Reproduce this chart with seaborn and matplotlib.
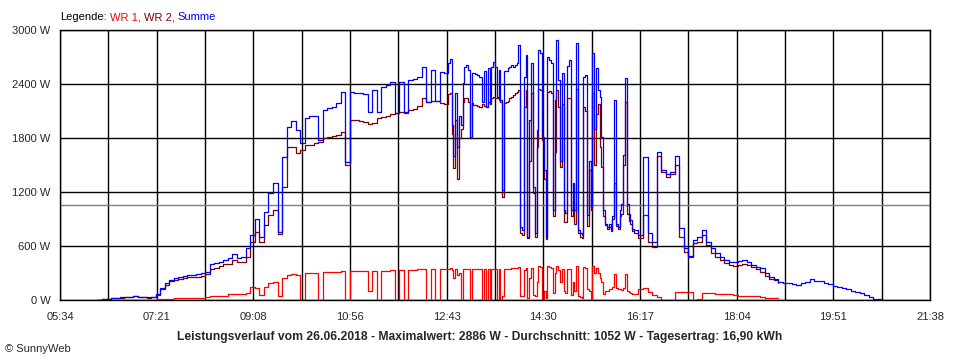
import numpy as np
import pandas as pd
import seaborn as sns
import matplotlib
matplotlib.use("Agg")
import matplotlib.pyplot as plt

# --- data (26.06.2018), values in W ---
# logger samples: 5 min until 12:40, 2 min in the cloudy midday part, 5 min in the evening
times_morning = pd.date_range("2018-06-26 06:15", "2018-06-26 12:40", freq="5min")
times_midday = pd.date_range("2018-06-26 12:42", "2018-06-26 16:10", freq="2min")
times_evening = pd.date_range("2018-06-26 16:15", "2018-06-26 20:45", freq="5min")

summe_morning = [5, 8, 12, 18, 22, 28, 35, 30, 45, 35, 30, 30, 38, 65, 135, 185, 222, 240, 258, 270,
                 278, 278, 285, 296, 315, 396, 407, 425, 444, 463, 510, 463, 481, 574, 720, 900, 700, 980,
                 1190, 1300, 760, 1590, 1925, 1990, 1890, 1740, 2020, 2050, 2050, 1778, 2110, 2130, 2150,
                 2185, 2315, 1530, 2315, 2305, 2300, 2290, 2093, 2333, 2090, 2370, 2390, 2420, 2080, 2420,
                 2085, 2444, 2455, 2481, 2592, 2200, 2555, 2214, 2537, 2520]
wr2_morning = [5, 8, 12, 18, 20, 25, 32, 28, 40, 32, 28, 27, 35, 58, 125, 172, 208, 222, 236, 248,
               255, 255, 260, 270, 290, 350, 360, 375, 395, 400, 440, 420, 425, 480, 640, 760, 650, 830,
               950, 1000, 730, 1260, 1700, 1700, 1630, 1667, 1720, 1722, 1740, 1760, 1796, 1815, 1820,
               1830, 1870, 1500, 2000, 2000, 1990, 1980, 1960, 1966, 2020, 2037, 2044, 2070, 2075, 2085,
               2080, 2110, 2120, 2155, 2240, 2195, 2214, 2210, 2192, 2180]
wr1_morning = [0, 0, 0, 0, 0, 0, 0, 0, 0, 2, 3, 3, 4, 6, 10, 12, 14, 20, 25, 25,
               25, 25, 25, 25, 28, 45, 48, 48, 50, 66, 68, 70, 72, 75, 140, 130, 60, 150,
               185, 200, 40, 250, 278, 285, 280, 0, 300, 305, 305, 0, 310, 310, 315,
               315, 320, 0, 320, 322, 322, 322, 100, 325, 0, 325, 325, 330, 0, 330,
               0, 330, 335, 350, 350, 0, 350, 0, 350, 350]

summe_midday = [2520, 2630, 2680, 1950, 1600, 2300, 1700, 2050, 1950, 2407, 2590, 2610, 2555, 1810, 2526,
                2520, 2507, 2500, 2480, 2480, 2200, 2540, 2150, 2575, 2190, 2590, 2648, 2590, 2260, 2555,
                2220, 1222, 2540, 2540, 2575, 2590, 2610, 2590, 2610, 2630, 2833, 810, 778, 2480, 2722,
                704, 2000, 2630, 1260, 750, 1890, 2778, 2740, 1810, 1450, 700, 2703, 2667, 2630, 1000,
                2220, 2886, 2444, 1550, 2520, 1000, 970, 2600, 2667, 1000, 1300, 1000, 2860, 780, 740,
                720, 2480, 2500, 940, 1550, 1030, 2740, 1900, 2575, 2333, 2260, 1810, 1000, 850, 810,
                850, 780, 930, 2220, 850, 810, 1000, 1070, 1610, 2470, 1070, 960, 890, 790, 780]
wr2_midday = [2180, 2290, 2300, 1850, 1470, 2000, 1350, 1800, 1900, 2200, 2240, 2240, 2200, 1800, 2190,
              2170, 2165, 2160, 2150, 2150, 2180, 2160, 2140, 2200, 2180, 2240, 2260, 2250, 2240, 2220,
              2200, 1150, 2185, 2200, 2210, 2240, 2260, 2278, 2304, 2315, 2330, 741, 720, 2150, 2333,
              690, 1550, 2300, 1190, 700, 1700, 2350, 2333, 1780, 1350, 680, 2315, 2320, 2300, 930,
              1650, 2333, 2150, 1480, 2180, 870, 870, 2250, 2250, 930, 1100, 850, 2350, 740, 700,
              690, 2150, 2100, 820, 1450, 1000, 2300, 1500, 2070, 2180, 1700, 1480, 930, 830, 790,
              810, 770, 900, 1300, 820, 790, 930, 960, 1500, 2200, 960, 880, 850, 770, 740]
wr1_midday = [350, 350, 360, 330, 250, 340, 280, 300, 0, 340, 340, 345, 340, 0, 345,
              345, 345, 345, 345, 345, 0, 345, 0, 345, 0, 345, 345, 350, 0, 350,
              0, 50, 350, 350, 350, 350, 355, 355, 355, 355, 370, 40, 40, 330, 360,
              20, 250, 360, 60, 40, 200, 375, 370, 0, 100, 20, 375, 370, 360, 80,
              300, 380, 330, 200, 350, 100, 80, 350, 350, 60, 200, 100, 380, 40, 30,
              20, 370, 360, 120, 100, 0, 380, 300, 360, 300, 250, 200, 70, 100, 100,
              120, 120, 150, 290, 130, 120, 120, 110, 130, 290, 100, 90, 80, 70, 70]

summe_evening = [720, 1590, 740, 650, 1650, 1450, 1396, 1426, 1600, 800, 574, 489, 667, 700, 778, 648,
                 574, 518, 481, 444, 426, 420, 430, 450, 426, 389, 370, 352, 296, 259, 233, 204,
                 185, 185, 174, 167, 185, 204, 230, 211, 215, 193, 178, 156, 141, 130, 119, 104,
                 89, 74, 56, 30, 11, 7, 3]
wr2_evening = [690, 940, 648, 590, 1600, 1420, 1370, 1400, 1500, 700, 537, 480, 630, 648, 720, 611,
               518, 480, 444, 415, 389, 380, 389, 400, 389, 370, 341, 315, 267, 230, 220, 193] + [None] * 23
wr1_evening = [120, 130, 90, 60, 30, 0, 0, 0, 89, 89, 89, 89, 0, 10, 80, 80,
               80, 70, 70, 70, 70, 60, 50, 45, 40, 40, 40, 30, 20, 20, 20, 20] + [None] * 23

average_w = 1052
x_tick_labels = ["05:34", "07:21", "09:08", "10:56", "12:43", "14:30", "16:17", "18:04", "19:51", "21:38"]
y_ticks = [0, 600, 1200, 1800, 2400, 3000]
title_text = ("Leistungsverlauf vom 26.06.2018 - Maximalwert: 2886 W - "
              "Durchschnitt: 1052 W - Tagesertrag: 16,90 kWh")

times = times_morning.append(times_midday).append(times_evening)
df = pd.DataFrame({
    "time": times,
    "WR 1": wr1_morning + wr1_midday + wr1_evening,
    "WR 2": wr2_morning + wr2_midday + wr2_evening,
    "Summe": summe_morning + summe_midday + summe_evening,
})
df["minute"] = df["time"].dt.hour * 60 + df["time"].dt.minute
df = df.astype({"WR 1": float, "WR 2": float, "Summe": float})

colors = {"WR 1": "#ff0000", "WR 2": "#800000", "Summe": "#0000ff"}

sns.set_style("white")
plt.rcParams["font.family"] = ["Liberation Sans", "DejaVu Sans"]
plt.rcParams["font.size"] = 8

fig = plt.figure(figsize=(9.6, 3.6), dpi=100)
ax = fig.add_axes([60 / 960, 60 / 360, 870 / 960, 270 / 360])

x_min, x_max = 334, 1298  # 05:34 .. 21:38
ax.axhline(average_w, color="#808080", lw=1, zorder=1)

for name in ["WR 1", "WR 2", "Summe"]:
    part = df.dropna(subset=[name])
    sns.lineplot(data=part, x="minute", y=name, color=colors[name], lw=0.9,
                 drawstyle="steps-post", estimator=None, ax=ax, zorder=3)

ax.set_xlim(x_min, x_max)
ax.set_ylim(0, 3000)
ticks = np.linspace(x_min, x_max, 19)
ax.set_xticks(ticks)
ax.set_xticklabels([x_tick_labels[i // 2] if i % 2 == 0 else "" for i in range(19)])
ax.set_yticks(y_ticks)
ax.set_yticklabels([f"{v} W" for v in y_ticks])
ax.set_xlabel("")
ax.set_ylabel("")
ax.grid(True, color="black", lw=1)
ax.set_axisbelow(True)
for sp in ax.spines.values():
    sp.set_color("black")
    sp.set_linewidth(1)
ax.tick_params(direction="out", length=4, width=1, color="black", pad=3, labelsize=8)
ax.tick_params(axis="x", pad=5)

# colored legend line on top
fig.canvas.draw()
renderer = fig.canvas.get_renderer()
parts = [("Legende:", "black"), ("WR 1,", colors["WR 1"]), ("WR 2,", colors["WR 2"]), ("Summe", colors["Summe"])]
xpos = 60
for txt, col in parts:
    t = fig.text(xpos / 960, 1 - 17 / 360, txt, color=col, fontsize=8, va="center", ha="left")
    xpos += t.get_window_extent(renderer=renderer).width + 3

fig.text(0.5, 1 - 337 / 360, title_text, ha="center", va="center", fontsize=8.7, fontweight="bold")
fig.text(5 / 960, 1 - 349 / 360, "\u00a9 SunnyWeb", ha="left", va="center", fontsize=8)

fig.savefig("out.png", dpi=100)
